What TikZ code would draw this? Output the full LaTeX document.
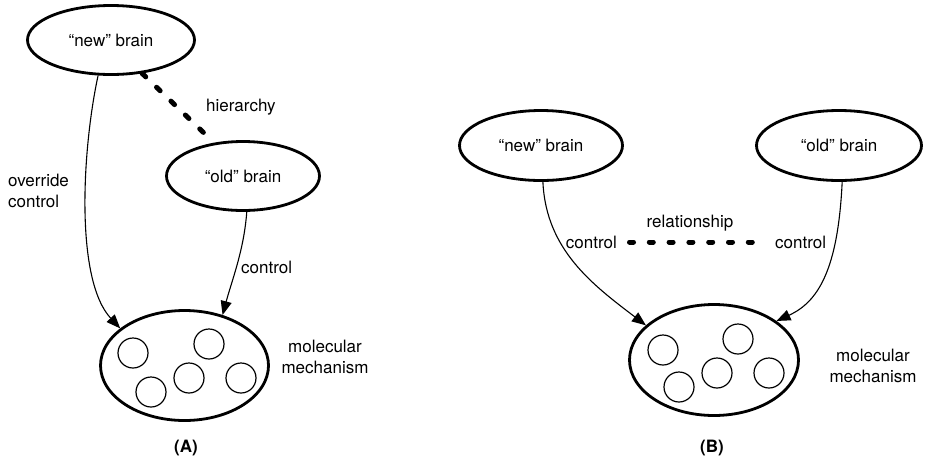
\documentclass[tikz,border=0pt]{standalone}
\usepackage{fontspec}
\setmainfont{TeX Gyre Heros}
\usetikzlibrary{arrows.meta,shapes.geometric}
\begin{document}
\begin{tikzpicture}[x=1pt,y=-1pt,
  txt/.style={font=\fontsize{17}{21}\selectfont,inner sep=0pt},
  brain/.style={ellipse,draw,line width=2.8pt,inner sep=0pt,txt},
  cell/.style={circle,draw,line width=1.2pt,minimum size=30pt,inner sep=0pt},
  ctl/.style={line width=1.1pt,-{Triangle[length=14pt,width=11pt]}},
  rel/.style={line width=5pt,line cap=round,dash pattern=on 4pt off 15.8pt},
  panel/.style={font=\fontsize{17}{21}\selectfont\bfseries,inner sep=0pt}]
\useasboundingbox (0,0) rectangle (930,459);

% ---------- Panel A ----------
\node[brain,minimum width=167pt,minimum height=69pt] (newA) at (111,40) {“new” brain};
\node[brain,minimum width=153pt,minimum height=69pt] (oldA) at (243,176) {“old” brain};
\node[brain,minimum width=168pt,minimum height=110pt] (molA) at (184.5,365.5) {};
\node[cell] (a1) at (133,353) {};
\node[cell] (a2) at (209,344) {};
\node[cell] (a3) at (151,392) {};
\node[cell] (a4) at (189,378) {};
\node[cell] (a5) at (241,378) {};

\draw[rel,dash pattern=on 5pt off 15pt] (newA.313) -- (oldA.131);
\node[txt,anchor=west] (hierA) at (206,107) {hierarchy};

\draw[ctl] (newA.250) .. controls (82,150) and (75,280) .. (molA.150.7);
\node[txt,anchor=west,align=left] (ovr) at (8,191) {override\\control};

\draw[ctl] (oldA.276) .. controls (244,250) and (232,280) .. (molA.53.6);
\node[txt,anchor=west] (ctlA) at (241,267) {control};

\node[txt,align=center] (molTA) at (325,356.5) {molecular\\mechanism};
\node[panel] (labA) at (186,448) {(A)};

% ---------- Panel B ----------
\node[brain,minimum width=163pt,minimum height=70pt] (newB) at (541,145.5) {“new” brain};
\node[brain,minimum width=165pt,minimum height=70pt] (oldB) at (839,145.5) {“old” brain};
\node[brain,minimum width=169pt,minimum height=111pt] (molB) at (714,360) {};
\node[cell] (b1) at (663,350) {};
\node[cell] (b2) at (738,339) {};
\node[cell] (b3) at (679,387) {};
\node[cell] (b4) at (717,373) {};
\node[cell] (b5) at (769,373) {};

\draw[ctl] (newB.273) .. controls (546,250) and (593,285) .. (molB.153.8);
\draw[ctl] (oldB.275) .. controls (838,270) and (818,302) .. (molB.32);

\node[txt,anchor=east] (ctlBL) at (617,242) {control};
\node[txt,anchor=west] (ctlBR) at (775,242) {control};
\draw[rel,shorten <=12.5pt,shorten >=22.5pt] (ctlBL.east) -- (ctlBR.west);
\node[txt] (relB) at (690,223) {relationship};

\node[txt,align=center] (molTB) at (873,366) {molecular\\mechanism};
\node[panel] (labB) at (712,448) {(B)};
\end{tikzpicture}
\end{document}
